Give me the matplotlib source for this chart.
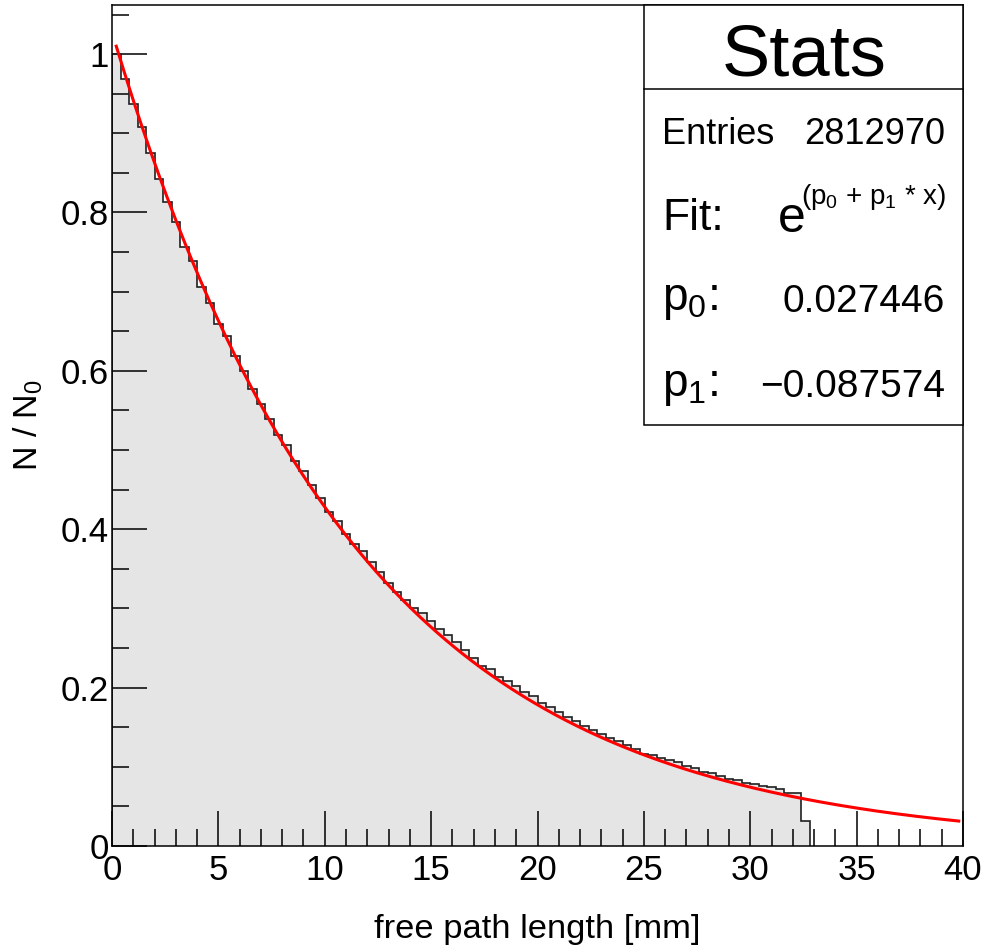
import numpy as np
import matplotlib
matplotlib.use("Agg")
import matplotlib.pyplot as plt
from matplotlib.patches import Rectangle
from matplotlib.lines import Line2D

plt.rcParams['font.family'] = ['Liberation Sans', 'DejaVu Sans']

# histogram of free path length, normalised to the first bin
bin_width = 0.4
n_over_n0 = [
    1.000, 0.969, 0.937, 0.908, 0.875, 0.842, 0.813, 0.788, 0.757, 0.739, 0.706, 0.686, 0.659,
    0.644, 0.619, 0.600, 0.577, 0.558, 0.539, 0.519, 0.506, 0.486, 0.474, 0.456, 0.440,
    0.422, 0.410, 0.394, 0.381, 0.372, 0.359, 0.346, 0.332, 0.321, 0.311, 0.301, 0.294,
    0.284, 0.274, 0.266, 0.257, 0.248, 0.238, 0.227, 0.223, 0.214, 0.208, 0.202, 0.194, 0.189,
    0.181, 0.175, 0.169, 0.163, 0.158, 0.152, 0.147, 0.142, 0.137, 0.132, 0.128, 0.122,
    0.1165, 0.1145, 0.111, 0.108, 0.1065, 0.101, 0.099, 0.0934, 0.0918, 0.089, 0.084, 0.083,
    0.080, 0.078, 0.0758, 0.0749, 0.0716, 0.0665, 0.0665, 0.032,
]
edges = np.arange(len(n_over_n0) + 1) * bin_width

# fit parameters shown in the stats box
p0 = 0.027446
p1 = -0.087574
entries = "2812970"
fit_range = (0.2, 39.8)

W, H = 984, 946
fig = plt.figure(figsize=(W / 100, H / 100), dpi=100)


def fx(px):
    return px / W


def fy(py):
    return 1 - py / H


ax = fig.add_axes([fx(112), fy(846), fx(963) - fx(112), fy(5) - fy(846)])

ax.stairs(n_over_n0, edges, fill=True, color='#e5e5e5', zorder=1)
ax.stairs(n_over_n0, edges, baseline=0, color='#202020', lw=1.2, zorder=2)

xf = np.linspace(fit_range[0], fit_range[1], 400)
ax.plot(xf, np.exp(p0 + p1 * xf), color='#ff0000', lw=2.2, zorder=3)

ax.set_xlim(0, 40)
ax.set_ylim(0, 1.062)
ax.set_xticks(np.arange(0, 41, 5))
ax.set_xticks(np.arange(0, 41, 1), minor=True)
ax.set_yticks([0, 0.2, 0.4, 0.6, 0.8, 1])
ax.set_yticklabels(['0', '0.2', '0.4', '0.6', '0.8', '1'])
ax.set_yticks(np.arange(0, 1.06, 0.05), minor=True)
ax.tick_params(which='both', direction='in', top=False, right=False, width=1.1,
               labelsize=25)
ax.tick_params(axis='y', pad=2)
ax.tick_params(axis='x', pad=5.5)
ax.tick_params(which='major', length=25)
ax.tick_params(which='minor', length=12)
for s in ax.spines.values():
    s.set_linewidth(1.1)

fig.text(fx(537), fy(938), 'free path length [mm]', ha='center', va='baseline', fontsize=24.8)
fig.text(fx(38), fy(425), r'N / N$\mathregular{_0}$', ha='center', va='baseline',
         rotation=90, rotation_mode='anchor', fontsize=24.5)

# stats box
box = Rectangle((fx(644), fy(425)), fx(963) - fx(644), fy(5) - fy(425),
                transform=fig.transFigure, facecolor='white', edgecolor='black',
                lw=1.1, zorder=5)
fig.patches.append(box)
fig.lines.append(Line2D([fx(644), fx(963)], [fy(89), fy(89)], transform=fig.transFigure,
                        color='black', lw=1.1, zorder=6))

fig.text(fx(804), fy(75), 'Stats', ha='center', va='baseline', fontsize=52, zorder=7)
fig.text(fx(662), fy(144), 'Entries', ha='left', va='baseline', fontsize=26, zorder=7)
fig.text(fx(945), fy(144), entries, ha='right', va='baseline', fontsize=26, zorder=7)
fig.text(fx(662), fy(230), 'Fit:', ha='left', va='baseline', fontsize=32, zorder=7)
fig.text(fx(806), fy(232), 'e', ha='right', va='baseline', fontsize=36, zorder=7)
fig.text(fx(946), fy(204), r'(p$\mathregular{_0}$ + p$\mathregular{_1}$ * x)', ha='right',
         va='baseline', fontsize=20, zorder=7)
fig.text(fx(662), fy(310), r'p$\mathregular{_0}$:', ha='left', va='baseline', fontsize=33, zorder=7)
fig.text(fx(945), fy(312), '%.6f' % p0, ha='right', va='baseline', fontsize=28, zorder=7)
fig.text(fx(662), fy(396), r'p$\mathregular{_1}$:', ha='left', va='baseline', fontsize=33, zorder=7)
fig.text(fx(945), fy(397), '\u2212%.6f' % abs(p1), ha='right', va='baseline', fontsize=28, zorder=7)

fig.savefig('out.png', dpi=100)
